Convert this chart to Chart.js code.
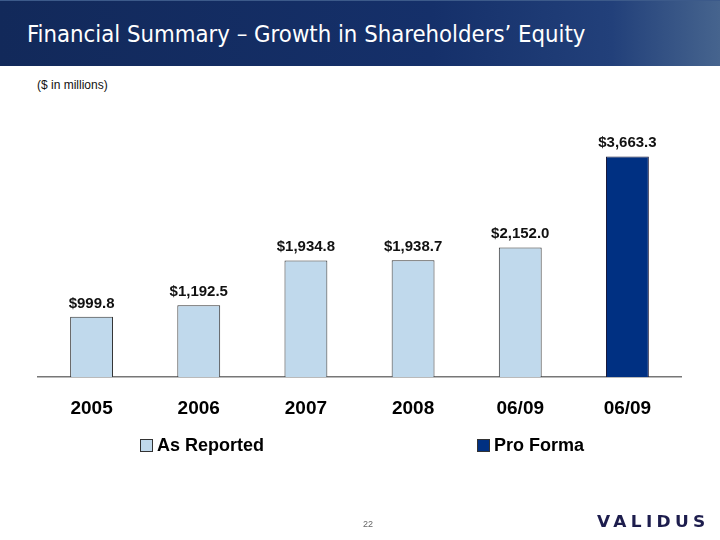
<!DOCTYPE html>
<html>
<head>
<meta charset="utf-8">
<script src="https://cdn.jsdelivr.net/npm/chart.js@4.4.1/dist/chart.umd.min.js"></script>
<style>
  html, body { margin: 0; padding: 0; background: #fff; }
  #page { position: relative; width: 720px; height: 540px; overflow: hidden; font-family: "Liberation Sans", Arial, sans-serif; }
  #header {
    position: absolute; left: 0; top: 0; width: 720px; height: 66px;
    background: linear-gradient(to right, #12295a 0%, #15306a 60%, #22407a 85%, #46648e 100%);
    border-top: 1px solid #3c5a8a; box-sizing: border-box;
  }
  #title {
    position: absolute; left: 27px; top: 19px; color: #fff;
    font-family: "DejaVu Sans Condensed", "DejaVu Sans", sans-serif; font-size: 23.7px; white-space: nowrap;
  }
  #units { position: absolute; left: 37px; top: 78px; font-size: 12px; color: #111; }
  #pagenum { position: absolute; left: 363px; top: 519px; font-size: 9px; color: #666; }
  #logo {
    position: absolute; left: 597px; top: 512px; font-size: 17px; font-weight: bold; color: #1d1d4d;
    letter-spacing: 4.3px; font-family: "DejaVu Sans", sans-serif; transform: scaleY(0.95); transform-origin: left top;
  }
  canvas { position: absolute; left: 0; top: 0; }
</style>
</head>
<body>
<div id="page">
  <div id="header"><div id="title">Financial Summary – Growth in Shareholders’ Equity</div></div>
  <div id="units">($ in millions)</div>
  <canvas id="chart" width="720" height="540"></canvas>
  <div id="pagenum">22</div>
  <div id="logo">VALIDUS</div>
</div>
<script>
const categories = ["2005", "2006", "2007", "2008", "06/09", "06/09"];
const asReported = [999.8, 1192.5, 1934.8, 1938.7, 2152.0, null];
const proForma = [null, null, null, null, null, 3663.3];
const seriesNames = ["As Reported", "Pro Forma"];
const seriesColors = ["#c0d9ec", "#003082"];

// value labels above each bar
const valueLabels = {
  id: "valueLabels",
  afterDatasetsDraw(chart) {
    const ctx = chart.ctx;
    ctx.save();
    ctx.font = "bold 15px 'Liberation Sans', Arial, sans-serif";
    ctx.fillStyle = "#111";
    ctx.textAlign = "center";
    ctx.textBaseline = "alphabetic";
    chart.data.datasets.forEach((ds, i) => {
      chart.getDatasetMeta(i).data.forEach((bar, j) => {
        const v = ds.data[j];
        if (v == null) return;
        const txt = "$" + v.toLocaleString("en-US", { minimumFractionDigits: 1, maximumFractionDigits: 1 });
        ctx.fillText(txt, bar.x, bar.y - 9);
      });
    });
    ctx.restore();
  }
};

// legend spread out like the slide
const spreadLegend = {
  id: "spreadLegend",
  afterDraw(chart) {
    const ctx = chart.ctx;
    const xs = [140, 477];
    ctx.save();
    ctx.font = "bold 18px 'Liberation Sans', Arial, sans-serif";
    ctx.textBaseline = "middle";
    chart.data.datasets.forEach((ds, i) => {
      ctx.fillStyle = ds.backgroundColor;
      ctx.fillRect(xs[i], 439.5, 12, 12);
      ctx.strokeStyle = "#333";
      ctx.lineWidth = 1;
      ctx.strokeRect(xs[i] + 0.5, 439.5, 12, 12);
      ctx.fillStyle = "#000";
      ctx.fillText(ds.label, xs[i] + 17, 446);
    });
    ctx.restore();
  }
};

new Chart(document.getElementById("chart"), {
  type: "bar",
  data: {
    labels: categories,
    datasets: [
      { label: seriesNames[0], data: asReported, backgroundColor: seriesColors[0], borderColor: "#333", borderWidth: 1 },
      { label: seriesNames[1], data: proForma, backgroundColor: seriesColors[1], borderColor: "#1a1a3a", borderWidth: 1 }
    ]
  },
  options: {
    responsive: false,
    animation: false,
    layout: { padding: { left: 38, right: 39, top: 100, bottom: 123 } },
    plugins: { legend: { display: false }, tooltip: { enabled: false } },
    datasets: { bar: { categoryPercentage: 1, barPercentage: 0.4 } },
    scales: {
      x: {
        stacked: true,
        grid: { display: false, drawTicks: false },
        border: { display: true, color: "#777", width: 1.5 },
        ticks: { color: "#000", font: { family: "'Liberation Sans', Arial, sans-serif", size: 19, weight: "bold" }, padding: 20 },
        afterFit(scale) { scale.height = 40; }
      },
      y: { stacked: true, display: false, min: 0, max: 4600 }
    }
  },
  plugins: [valueLabels, spreadLegend]
});
</script>
</body>
</html>
